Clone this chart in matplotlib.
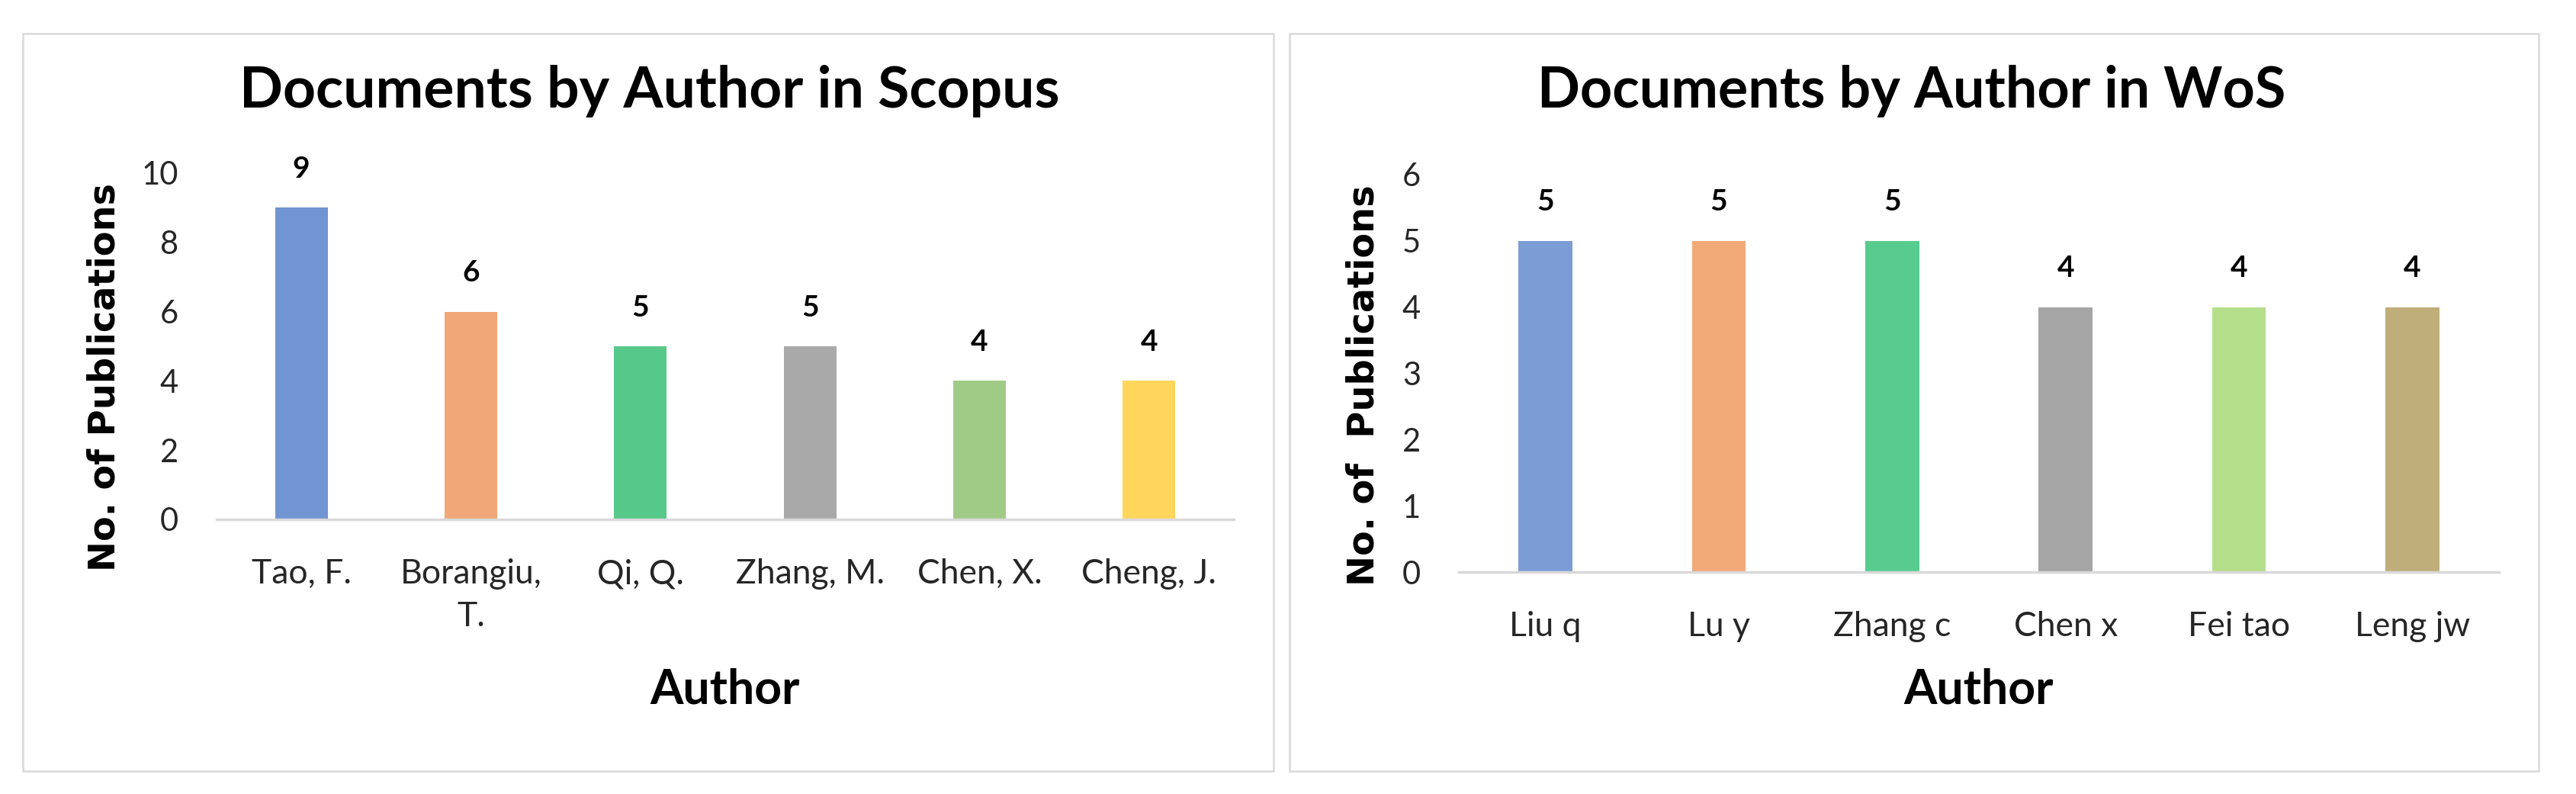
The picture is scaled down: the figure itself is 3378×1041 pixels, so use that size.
import matplotlib.pyplot as plt
from matplotlib.patches import Rectangle

# data
scopus_authors = ['Tao, F.', 'Borangiu,\nT.', 'Qi, Q.', 'Zhang, M.', 'Chen, X.', 'Cheng, J.']
scopus_docs = [9, 6, 5, 5, 4, 4]
scopus_colors = ['#7194d2', '#f1a777', '#56c98a', '#a9a9a9', '#a0cb86', '#ffd55b']

wos_authors = ['Liu q', 'Lu y', 'Zhang c', 'Chen x', 'Fei tao', 'Leng jw']
wos_docs = [5, 5, 5, 4, 4, 4]
wos_colors = ['#7b9cd4', '#f2a978', '#58cc8e', '#a5a5a5', '#b5de8a', '#bfae7a']

FONT = 'Lato'
W, H = 3378, 1041

fig = plt.figure(figsize=(W / 100, H / 100), dpi=100)

# panel frames
for x0, x1 in [(30, 1670), (1691, 3329)]:
    fig.patches.append(Rectangle((x0 / W, 1 - 1011 / H), (x1 - x0) / W, 967 / H,
                                 transform=fig.transFigure, facecolor='none',
                                 edgecolor='#d9d9d9', linewidth=1.8, zorder=0))


def draw(rect, names, vals, colors, ymax, title, title_x, title_size,
         ylabel, ylab_xy, xlab_y):
    ax = fig.add_axes(rect)
    ax.patch.set_alpha(0)
    x = range(len(names))
    ax.bar(x, vals, width=0.31, color=colors, zorder=2)
    for i, v in zip(x, vals):
        ax.annotate(str(v), (i, v), xytext=(0, 24), textcoords='offset points',
                    ha='center', va='bottom', fontsize=28, fontweight='bold', family=FONT)
    ax.set_xlim(-0.5, len(names) - 0.5)
    ax.set_ylim(0, ymax)
    ax.set_yticks(range(0, ymax + 1, 2 if ymax > 6 else 1))
    ax.set_xticks(list(x))
    ax.set_xticklabels(names, fontsize=32, family=FONT, linespacing=1.45, color='#262626')
    ax.tick_params(axis='x', length=0, pad=37)
    ax.tick_params(axis='y', length=0, pad=36)
    for lab in ax.get_yticklabels():
        lab.set_fontsize(30)
        lab.set_family(FONT)
        lab.set_color('#262626')
    for s in ['top', 'right', 'left']:
        ax.spines[s].set_visible(False)
    ax.spines['bottom'].set_color('#d9d9d9')
    ax.spines['bottom'].set_linewidth(2.5)
    ax.set_ylabel(ylabel, fontsize=34.5, fontweight='bold', family='DejaVu Sans', va='center')
    ax.yaxis.set_label_coords(*ylab_xy)
    ax.set_xlabel('Author', fontsize=45, fontweight='bold', family=FONT, va='center')
    ax.xaxis.set_label_coords(0.5, xlab_y)
    fig.text(title_x / W, 1 - 120 / H, title, ha='center', va='center',
             fontsize=title_size, fontweight='bold', family=FONT)
    return ax


draw([284 / W, 1 - 681 / H, 1334 / W, 454 / H],
     scopus_authors, scopus_docs, scopus_colors, 10,
     'Documents by Author in Scopus', 852, 54,
     'No. of Publications', (-0.11, 0.41), -0.492)

draw([1913 / W, 1 - 750 / H, 1364 / W, 521 / H],
     wos_authors, wos_docs, wos_colors, 6,
     'Documents by Author in WoS', 2507, 53,
     'No. of  Publications', (-0.0916, 0.47), -0.2975)

fig.savefig('out.png', dpi=100, facecolor='white')
